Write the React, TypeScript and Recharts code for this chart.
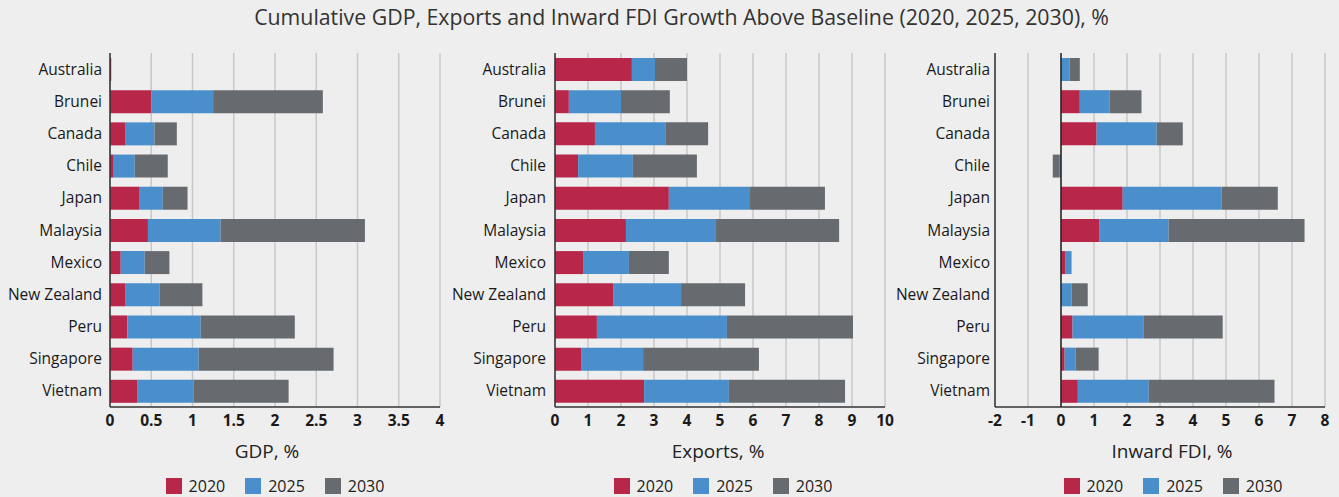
import {
  BarChart,
  Bar,
  XAxis,
  YAxis,
  CartesianGrid,
  Legend,
  ReferenceLine,
} from "recharts";

const countries = [
  "Australia",
  "Brunei",
  "Canada",
  "Chile",
  "Japan",
  "Malaysia",
  "Mexico",
  "New Zealand",
  "Peru",
  "Singapore",
  "Vietnam",
];

// stacked segment sizes per year
const gdp2020 = [0.015, 0.5, 0.19, 0.045, 0.36, 0.46, 0.13, 0.19, 0.21, 0.275, 0.335];
const gdp2025 = [0, 0.75, 0.35, 0.255, 0.28, 0.88, 0.29, 0.41, 0.89, 0.8, 0.68];
const gdp2030 = [0, 1.33, 0.27, 0.4, 0.3, 1.75, 0.3, 0.52, 1.14, 1.635, 1.15];

const exp2020 = [2.33, 0.42, 1.21, 0.7, 3.45, 2.15, 0.85, 1.76, 1.27, 0.79, 2.7];
const exp2025 = [0.7, 1.58, 2.15, 1.66, 2.46, 2.73, 1.39, 2.06, 3.94, 1.88, 2.57];
const exp2030 = [0.97, 1.48, 1.28, 1.94, 2.27, 3.73, 1.21, 1.94, 3.82, 3.51, 3.52];

const fdi2020 = [0, 0.57, 1.08, 0, 1.87, 1.17, 0.14, 0, 0.35, 0.11, 0.51];
const fdi2025 = [0.26, 0.9, 1.82, -0.06, 3.0, 2.09, 0.18, 0.32, 2.16, 0.33, 2.15];
const fdi2030 = [0.31, 0.97, 0.79, -0.19, 1.7, 4.12, 0, 0.49, 2.39, 0.7, 3.81];

const gdpTicks = [0, 0.5, 1, 1.5, 2, 2.5, 3, 3.5, 4];
const expTicks = [0, 1, 2, 3, 4, 5, 6, 7, 8, 9, 10];
const fdiTicks = [-2, -1, 0, 1, 2, 3, 4, 5, 6, 7, 8];

const years = ["2020", "2025", "2030"];
const colors = ["#b8264a", "#4a8fcc", "#676b6f"];

const FONT = "'Open Sans', sans-serif";

const toRows = (a: number[], b: number[], c: number[]) =>
  countries.map((name, i) => ({ name, y2020: a[i], y2025: b[i], y2030: c[i] }));

const LegendContent = (props: any) => {
  const { payload } = props;
  return (
    <div
      style={{
        height: 22,
        display: "flex",
        justifyContent: "center",
        alignItems: "center",
        gap: 20,
        fontFamily: FONT,
        fontSize: 16,
        color: "#222",
      }}
    >
      {(payload || []).map((p: any) => (
        <span key={p.value} style={{ display: "flex", alignItems: "center" }}>
          <span
            style={{
              width: 16,
              height: 16,
              background: p.color,
              marginRight: 7,
              display: "inline-block",
            }}
          />
          <span>{p.value}</span>
        </span>
      ))}
    </div>
  );
};

interface PanelProps {
  rows: any[];
  ticks: number[];
  title: string;
  left: number;
  width: number;
  axisWidth: number;
  tickMargin: number;
  titleDx: number;
  legendDx: number;
  zeroLine?: boolean;
}

const Panel = ({
  rows,
  ticks,
  title,
  left,
  width,
  axisWidth,
  tickMargin,
  titleDx,
  legendDx,
  zeroLine,
}: PanelProps) => {
  const plotWidth = 330;
  return (
    <div style={{ position: "absolute", left, top: 0 }}>
      <BarChart
        width={width}
        height={497}
        data={rows}
        layout="vertical"
        stackOffset="sign"
        barSize={23}
        margin={{ top: 53, right: width - axisWidth - plotWidth, bottom: 0, left: 0 }}
      >
        <CartesianGrid
          horizontal={false}
          stroke="#c8c8c8"
          strokeWidth={1.5}
        />
        <XAxis
          type="number"
          domain={[ticks[0], ticks[ticks.length - 1]]}
          ticks={ticks}
          interval={0}
          height={68}
          tickLine={false}
          tickSize={6}
          tickMargin={2}
          axisLine={{ stroke: "#333", strokeWidth: 1.5 }}
          tick={{ fontSize: 15.5, fontWeight: 700, fill: "#1a1a1a", fontFamily: FONT }}
          label={{
            value: title,
            position: "insideTop",
            offset: 38,
            dx: titleDx,
            style: { fontSize: 19, fill: "#222", fontFamily: FONT },
          }}
        />
        <YAxis
          type="category"
          dataKey="name"
          width={axisWidth}
          interval={0}
          tickLine={false}
          tickSize={6}
          tickMargin={tickMargin}
          axisLine={{ stroke: "#333", strokeWidth: 1.5 }}
          tick={{ fontSize: 15.5, fill: "#1a1a1a", fontFamily: FONT }}
        />
        <Legend
          verticalAlign="bottom"
          height={22}
          content={LegendContent}
          wrapperStyle={{ left: axisWidth + legendDx, width: plotWidth, bottom: 0 }}
        />
        {years.map((y, i) => (
          <Bar
            key={y}
            dataKey={`y${y}`}
            name={y}
            stackId="a"
            fill={colors[i]}
            isAnimationActive={false}
          />
        ))}
        {zeroLine && <ReferenceLine x={0} stroke="#222" strokeWidth={1.5} />}
      </BarChart>
    </div>
  );
};

export default function App() {
  return (
    <div
      style={{
        position: "absolute",
        left: 0,
        top: 0,
        width: 1339,
        height: 497,
        background: "#eeeeee",
        fontFamily: FONT,
        overflow: "hidden",
      }}
    >
      <div
        style={{
          position: "absolute",
          top: 2,
          left: 12,
          width: 1339,
          textAlign: "center",
          fontSize: 21.3,
          color: "#333",
        }}
      >
        Cumulative GDP, Exports and Inward FDI Growth Above Baseline (2020, 2025, 2030), %
      </div>
      <Panel
        rows={toRows(gdp2020, gdp2025, gdp2030)}
        ticks={gdpTicks}
        title="GDP, %"
        left={0}
        width={450}
        axisWidth={110}
        tickMargin={2}
        titleDx={-8}
        legendDx={0}
      />
      <Panel
        rows={toRows(exp2020, exp2025, exp2030)}
        ticks={expTicks}
        title="Exports, %"
        left={450}
        width={445}
        axisWidth={105}
        tickMargin={3}
        titleDx={-2}
        legendDx={3}
      />
      <Panel
        rows={toRows(fdi2020, fdi2025, fdi2030)}
        ticks={fdiTicks}
        title="Inward FDI, %"
        left={895}
        width={444}
        axisWidth={100}
        tickMargin={-1}
        titleDx={12}
        legendDx={13}
        zeroLine
      />
    </div>
  );
}
